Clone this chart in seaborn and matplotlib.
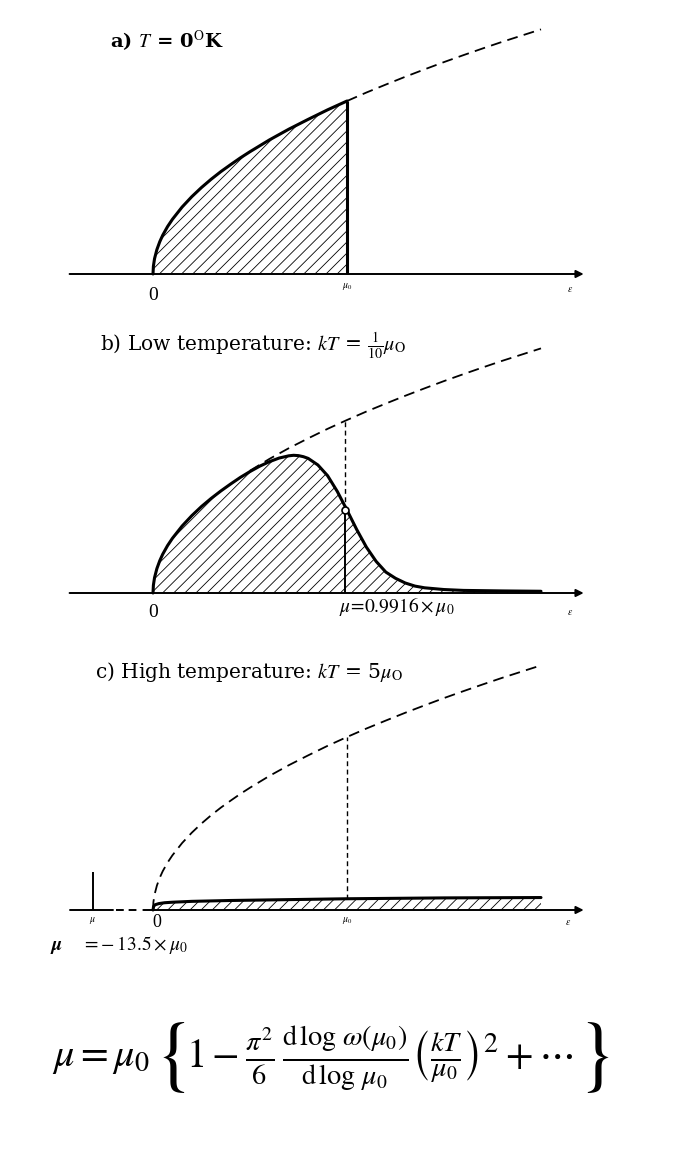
import matplotlib
matplotlib.use("Agg")
import matplotlib.pyplot as plt
import seaborn as sns

# density of states (dashed); energies in units of mu0
eps_dos = [0, 0.002, 0.008, 0.02, 0.035, 0.05, 0.075, 0.1, 0.15, 0.2, 0.25, 0.3, 0.35,
           0.4, 0.45, 0.5, 0.6, 0.7, 0.8, 0.9, 1.0,
           1.1, 1.2, 1.3, 1.4, 1.5, 1.6, 1.7, 1.8, 1.9, 2.0]
dos = [0, 0.045, 0.089, 0.141, 0.187, 0.224, 0.274, 0.316, 0.387, 0.447, 0.5, 0.548, 0.592,
       0.632, 0.671, 0.707, 0.775, 0.837, 0.894, 0.949, 1.0,
       1.049, 1.095, 1.14, 1.183, 1.225, 1.265, 1.304, 1.342, 1.378, 1.414]

# a) T = 0 : occupied states up to mu0
mu_a = 1.0
eps_a = eps_dos[:21]
occ_a = dos[:21]

# b) kT = mu0/10
mu_b = 0.9916
occ_b_at_mu = 0.48
eps_b = [0, 0.002, 0.008, 0.02, 0.035, 0.05, 0.075, 0.1, 0.15, 0.2, 0.25, 0.3, 0.35, 0.4,
         0.45, 0.5, 0.55, 0.6, 0.65, 0.7, 0.725, 0.75, 0.775, 0.8, 0.85, 0.9, 0.95, 1.0,
         1.05, 1.1, 1.15, 1.2, 1.25, 1.3, 1.35, 1.4, 1.5, 1.6, 1.8, 2.0]
occ_b = [0, 0.045, 0.089, 0.141, 0.187, 0.224, 0.274, 0.316, 0.387, 0.447, 0.5, 0.547, 0.59,
         0.63, 0.668, 0.702, 0.733, 0.759, 0.78, 0.793, 0.796, 0.794, 0.788, 0.778, 0.74,
         0.678, 0.587, 0.479, 0.367, 0.265, 0.183, 0.121, 0.085, 0.058, 0.04, 0.03, 0.02,
         0.015, 0.012, 0.01]

# c) kT = 5 mu0
eps_c = [0, 0.003, 0.01, 0.03, 0.06, 0.1, 0.2, 0.4, 0.7, 1.0, 1.5, 2.0]
occ_c = [0, 0.02, 0.03, 0.037, 0.042, 0.045, 0.05, 0.055, 0.06, 0.065, 0.07, 0.072]

titles = [r"a) $T$ = 0$^{\mathrm{O}}$K",
          r"b) Low temperature: $kT$ = $\frac{1}{10}\mu_{\mathrm{O}}$",
          r"c) High temperature: $kT$ = 5$\mu_{\mathrm{O}}$"]

W, H = 679, 1152
X0, PX_X = 153, 194      # px of eps=0, px per mu0
PX_Y = 173               # px per unit height
XLIM = (-0.45, 2.25)
YLIM = (-0.22, 1.5)
AXIS_Y = [274, 593, 910]  # px of the energy axis in each panel


def panel(fig, zero_y):
    left = X0 + XLIM[0] * PX_X
    width = (XLIM[1] - XLIM[0]) * PX_X
    bottom = zero_y - YLIM[0] * PX_Y
    height = (YLIM[1] - YLIM[0]) * PX_Y
    ax = fig.add_axes([left / W, (H - bottom) / H, width / W, height / H])
    ax.set_xlim(*XLIM)
    ax.set_ylim(*YLIM)
    ax.axis("off")
    return ax


def energy_axis(ax, start=-0.43):
    ax.annotate("", xy=(2.22, 0), xytext=(start, 0),
                arrowprops=dict(arrowstyle="-|>", lw=1.4, color="black",
                                mutation_scale=11, shrinkA=0, shrinkB=0))


sns.set_theme(style="white")
plt.rcParams["font.family"] = ["Liberation Serif", "DejaVu Serif"]
plt.rcParams["mathtext.fontset"] = "stix"
plt.rcParams["hatch.linewidth"] = 0.6
plt.rcParams["text.color"] = "black"

fig = plt.figure(figsize=(W / 100, H / 100), dpi=100)
fig.patch.set_facecolor("white")

dash = (0, (6, 3.5))
solid_kw = dict(color="black", lw=2.2, estimator=None, sort=False)
dash_kw = dict(color="black", lw=1.3, estimator=None, sort=False, linestyle=dash)
vdash = (0, (3.5, 2.5))
title_kw = dict(fontsize=14.5, va="center", family=["DejaVu Serif"])

# ---- a) T = 0
ax = panel(fig, AXIS_Y[0])
energy_axis(ax)
ax.fill_between(eps_a, occ_a, facecolor="none", edgecolor="black", hatch="///", lw=0)
sns.lineplot(x=eps_a, y=occ_a, ax=ax, **solid_kw)
sns.lineplot(x=eps_dos[20:], y=dos[20:], ax=ax, **dash_kw)
ax.vlines(mu_a, 0, occ_a[-1], color="black", lw=2.2)
ax.text(-0.22, 1.35, titles[0], fontweight="bold", fontsize=14, va="center",
        family=["DejaVu Serif"])
ax.text(0, -0.125, "0", fontsize=14, ha="center", va="center")
ax.text(mu_a, -0.075, r"$\mu_0$", fontsize=7, ha="center", va="center")
ax.text(2.15, -0.09, r"$\varepsilon$", fontsize=7, ha="center", va="center")

# ---- b) low temperature
ax = panel(fig, AXIS_Y[1])
energy_axis(ax)
ax.fill_between(eps_b, occ_b, facecolor="none", edgecolor="black", hatch="///", lw=0)
sns.lineplot(x=eps_b, y=occ_b, ax=ax, **solid_kw)
sns.lineplot(x=eps_dos[15:], y=dos[15:], ax=ax, **dash_kw)
ax.vlines(mu_b, 0, occ_b_at_mu, color="black", lw=1.4)
ax.vlines(mu_b, occ_b_at_mu, 0.996, color="black", lw=1.0, linestyle=vdash)
ax.plot([mu_b], [occ_b_at_mu], "o", ms=5, mfc="white", mec="black", mew=1.2)
ax.text(-0.273, 1.43, titles[1], **title_kw)
ax.text(0, -0.11, "0", fontsize=14, ha="center", va="center")
ax.text(0.96, -0.08, r"$\mu\!=\!0.9916\times\mu_0$", fontsize=14, ha="left", va="center")
ax.text(2.15, -0.11, r"$\varepsilon$", fontsize=7, ha="center", va="center")

# ---- c) high temperature
ax = panel(fig, AXIS_Y[2])
mu_c_pos = -0.31     # not to scale: mu = -13.5 mu0 is drawn just left of 0
ax.plot([-0.43, -0.205], [0, 0], color="black", lw=1.4)
ax.plot([-0.19, -0.06], [0, 0], color="black", lw=1.4, linestyle=(0, (4, 2.5)))
energy_axis(ax, start=-0.05)
ax.vlines(mu_c_pos, 0, 0.22, color="black", lw=1.4)
ax.fill_between(eps_c, occ_c, facecolor="none", edgecolor="black", hatch="///", lw=0)
sns.lineplot(x=eps_c, y=occ_c, ax=ax, **solid_kw)
sns.lineplot(x=eps_dos, y=dos, ax=ax, **dash_kw)
ax.vlines(1.0, occ_c[9], dos[20], color="black", lw=1.0, linestyle=vdash)
ax.text(-0.30, 1.376, titles[2], **title_kw)
ax.text(mu_c_pos, -0.06, r"$\mu$", fontsize=7, ha="center", va="center")
ax.text(0.02, -0.075, "0", fontsize=13, ha="center", va="center")
ax.text(1.0, -0.06, r"$\mu_0$", fontsize=7, ha="center", va="center")
ax.text(2.14, -0.07, r"$\varepsilon$", fontsize=7, ha="center", va="center")
ax.text(-0.53, -0.205, r"$\boldsymbol{\mu}$    $=\!-13.5\times\mu_0$", fontsize=14,
        ha="left", va="center")

# ---- formula, laid out piece by piece so the braces can be taller
renderer = fig.canvas.get_renderer()
pieces = [
    (r"$\mu = \mu_0$", 29, 0),
    (r"$\{$", 60, 4),
    (r"$1 - \frac{\pi^2}{6}\,"
     r"\frac{\mathrm{d}\,\log\,\omega(\mu_0)}{\mathrm{d}\,\log\,\mu_0}"
     r"\left(\frac{kT}{\mu_0}\right)^{2} + \cdots$", 29, 1),
    (r"$\}$", 60, 2),
]
x_px, y_frac = 52, 0.0816
for tex, size, gap in pieces:
    x_px += gap
    t = fig.text(x_px / W, y_frac, tex, fontsize=size, ha="left", va="center")
    x_px = t.get_window_extent(renderer).x1

fig.savefig("out.png", dpi=100, facecolor="white")
